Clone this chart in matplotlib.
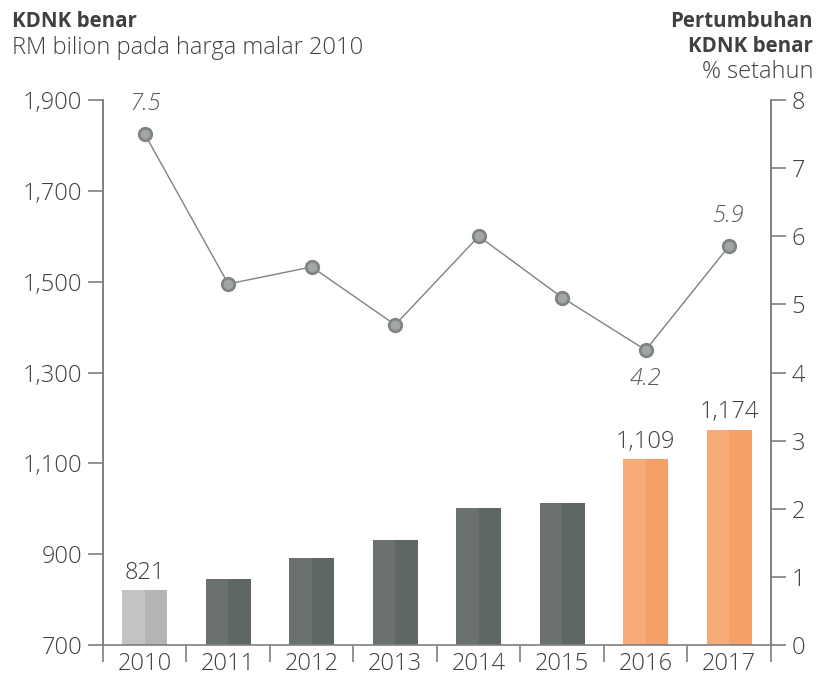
import matplotlib.pyplot as plt
import numpy as np

plt.rcParams['font.family'] = ['Open Sans', 'DejaVu Sans']

years = ['2010', '2011', '2012', '2013', '2014', '2015', '2016', '2017']
gdp = [821, 845, 891, 931, 1001, 1012, 1109, 1174]
growth = [7.5, 5.3, 5.55, 4.7, 6.0, 5.1, 4.33, 5.86]
growth_labels = {0: '7.5', 6: '4.2', 7: '5.9'}
gdp_labels = {0: '821', 6: '1,109', 7: '1,174'}

# left half / right half shades of each bar
grey_l, grey_r = '#6b7170', '#5f6765'
light_l, light_r = '#c3c4c2', '#b4b6b4'
orange_l, orange_r = '#f7ab78', '#f5a068'
left_cols = [light_l] + [grey_l] * 5 + [orange_l] * 2
right_cols = [light_r] + [grey_r] * 5 + [orange_r] * 2

text_col = '#404040'
axis_col = '#7f7f7f'
fs = 17

fig = plt.figure(figsize=(8.18, 6.83), dpi=100)
ax = fig.add_axes([0.1259, 0.0556, 0.8166, 0.798])
ax2 = ax.twinx()

x = np.arange(len(years))
w = 0.27
ax.bar(x - w / 2, np.array(gdp) - 700, width=w, bottom=700, color=left_cols, linewidth=0)
ax.bar(x + w / 2, np.array(gdp) - 700, width=w, bottom=700, color=right_cols, linewidth=0)
for i, s in gdp_labels.items():
    ax.text(x[i], gdp[i] + 12, s, ha='center', va='bottom', fontsize=fs, color=text_col,
            fontweight='light')

ax.set_xlim(-0.5, len(years) - 0.5)
ax.set_ylim(700, 1900)
ax.set_yticks([700, 900, 1100, 1300, 1500, 1700, 1900])
ax.set_yticklabels(['700', '900', '1,100', '1,300', '1,500', '1,700', '1,900'])
ax.set_xticks(np.arange(-0.5, len(years)), minor=False)
ax.set_xticklabels([])
ax.set_xticks(x, minor=True)
ax.set_xticklabels(years, minor=True)
ax.tick_params(axis='x', which='major', length=12, width=1.2, color=axis_col, direction='out')
ax.tick_params(axis='x', which='minor', length=0, pad=5, labelsize=fs, labelcolor=text_col)
ax.tick_params(axis='y', length=11, width=1.2, color=axis_col, labelsize=fs,
               labelcolor=text_col, pad=4)

ax2.plot(x, growth, color='#7d8381', linewidth=1, marker='o', markersize=9,
         markerfacecolor='#a2a7a5', markeredgecolor='#7f8583', markeredgewidth=2, zorder=3)
ax2.set_ylim(0, 8)
ax2.set_yticks(range(0, 9))
ax2.tick_params(axis='y', length=11, width=1.2, color=axis_col, labelsize=fs,
                labelcolor=text_col, pad=4)
for i, s in growth_labels.items():
    dy = -0.42 if i == 6 else 0.44
    ax2.text(x[i], growth[i] + dy, s, ha='center', va='center', fontsize=fs,
             style='italic', color='#595959', fontweight='light')

for a in (ax, ax2):
    a.spines['top'].set_visible(False)
    for side in ('left', 'right', 'bottom'):
        a.spines[side].set_color(axis_col)
        a.spines[side].set_linewidth(1.2)
ax2.spines['bottom'].set_visible(False)

for lab in ax.get_xticklabels(minor=True) + ax.get_yticklabels() + ax2.get_yticklabels():
    lab.set_fontweight('light')

fig.text(0.015, 0.968, 'KDNK benar', fontsize=14.8, fontweight='bold', color=text_col, va='center')
fig.text(0.015, 0.930, 'RM bilion pada harga malar 2010', fontsize=fs, color=text_col,
         va='center', fontweight='light')
fig.text(0.994, 0.969, 'Pertumbuhan', fontsize=14.8, fontweight='bold', color=text_col,
         va='center', ha='right')
fig.text(0.994, 0.932, 'KDNK benar', fontsize=14.8, fontweight='bold', color=text_col,
         va='center', ha='right')
fig.text(0.994, 0.895, '% setahun', fontsize=fs, color=text_col, va='center', ha='right',
         fontweight='light')

fig.savefig('out.png', dpi=100)
